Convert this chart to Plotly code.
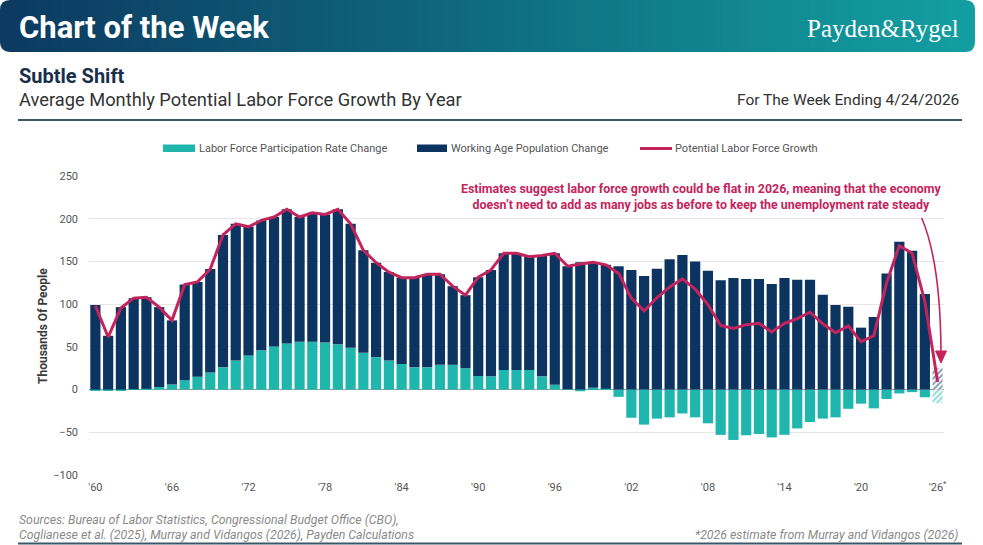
import plotly.graph_objects as go

years = list(range(1960, 2027))

# Labor force participation rate change (thousands/month)
lfpr_change = [-1, -1.5, -1, 0.5, 1, 3, 6, 11, 15, 20,
               26, 34, 40, 46, 50.5, 54, 56, 56, 55, 53,
               49, 43, 38, 34, 30, 26, 26, 29, 29, 25,
               16, 15.5, 23, 23, 23, 15.5, 5.5, 0.5, -2, 2,
               1, -8.5, -33, -41, -34, -32.5, -28, -32.5, -39.5, -53,
               -59, -53.5, -52, -56, -53, -45.5, -38, -34, -32.5, -22.5,
               -16.5, -22, -11, -4.5, -3, -9, -16]

# Working age population change (thousands/month)
wap_change = [99, 63, 96.5, 106.5, 107, 93.5, 75, 112, 111, 121,
              155, 160, 150.5, 152, 151.5, 157, 146, 151, 150, 158,
              145, 120, 110.5, 103.5, 101, 105, 109, 106, 92, 85.5,
              115.5, 124.5, 136.5, 136.5, 132.5, 141.5, 154, 144, 149, 147,
              145, 144.5, 140, 133, 141.5, 152.5, 157.5, 150, 139, 128,
              130.5, 129.5, 129.5, 123.5, 130.5, 128.5, 128.5, 111, 99, 97,
              72.5, 85, 136, 173, 162.5, 112, 25]

# Potential labor force growth (thousands/month)
potential_growth = [98, 61.5, 95.5, 107, 108, 96.5, 81, 123, 126, 141,
                    181, 194, 190.5, 198, 202, 211, 202, 207, 205, 211,
                    194, 163, 148.5, 137.5, 131, 131, 135, 135, 121, 110.5,
                    131.5, 140, 159.5, 159.5, 155.5, 157, 159.5, 144.5, 147, 149,
                    146, 136, 107, 92, 107.5, 120, 129.5, 117.5, 99.5, 75,
                    71.5, 76, 77.5, 67.5, 77.5, 83, 90.5, 77, 66.5, 74.5,
                    56, 63, 125, 168.5, 159.5, 103, 9]

tick_years = [1960, 1966, 1972, 1978, 1984, 1990, 1996, 2002, 2008, 2014, 2020, 2026]
tick_labels = ["'60", "'66", "'72", "'78", "'84", "'90", "'96", "'02", "'08", "'14", "'20", "'26<sup>*</sup>"]

TEAL = "#1fb6ae"
NAVY = "#0c3461"
CRIMSON = "#c4245c"
FONT = "Roboto"

# Plot area in pixels
L, R, T, B = 89, 944, 176, 475
W, H = R - L, B - T


def px(x):
    return (x - L) / W


def py(y):
    return (B - y) / H


def P(x, y):
    return "%f,%f" % (px(x), py(y))


n = len(years)
fig = go.Figure()
fig.add_trace(go.Bar(
    x=years, y=lfpr_change, name="Labor Force Participation Rate Change",
    marker=dict(color=TEAL, line=dict(width=0),
                pattern=dict(shape=[""] * (n - 1) + ["/"], fgcolor=TEAL, bgcolor="white",
                             size=4, solidity=0.5)),
    showlegend=False))
fig.add_trace(go.Bar(
    x=years, y=wap_change, name="Working Age Population Change",
    marker=dict(color=NAVY, line=dict(width=0),
                pattern=dict(shape=[""] * (n - 1) + ["/"], fgcolor=NAVY, bgcolor="white",
                             size=4, solidity=0.5)),
    showlegend=False))
fig.add_trace(go.Scatter(
    x=years, y=potential_growth, name="Potential Labor Force Growth", mode="lines",
    line=dict(color=CRIMSON, width=3), showlegend=False))

shapes = []
annotations = []

# Header banner with gradient
c0 = (12, 58, 97)
c1 = (18, 158, 160)
bx0, bx1, by0, by1 = 0, 975, 0, 52
nslices = 110
sx0, sx1 = 10, 965
for i in range(nslices):
    t = i / (nslices - 1)
    col = tuple(int(round(c0[k] + (c1[k] - c0[k]) * t)) for k in range(3))
    xa = sx0 + (sx1 - sx0) * i / nslices
    xb = sx0 + (sx1 - sx0) * (i + 1) / nslices + 0.8
    shapes.append(dict(type="rect", xref="paper", yref="paper", x0=px(xa), x1=px(xb),
                       y0=py(by1), y1=py(by0), fillcolor="rgb(%d,%d,%d)" % col,
                       line=dict(width=0), layer="below"))

r = 10
left_path = ("M " + P(sx0 + 1, by0) + " L " + P(bx0 + r, by0) + " Q " + P(bx0, by0) + " " + P(bx0, by0 + r)
             + " L " + P(bx0, by1 - r) + " Q " + P(bx0, by1) + " " + P(bx0 + r, by1)
             + " L " + P(sx0 + 1, by1) + " Z")
right_path = ("M " + P(sx1 - 1, by0) + " L " + P(bx1 - r, by0) + " Q " + P(bx1, by0) + " " + P(bx1, by0 + r)
              + " L " + P(bx1, by1 - r) + " Q " + P(bx1, by1) + " " + P(bx1 - r, by1)
              + " L " + P(sx1 - 1, by1) + " Z")
shapes.append(dict(type="path", xref="paper", yref="paper", path=left_path,
                   fillcolor="rgb(%d,%d,%d)" % c0, line=dict(width=0), layer="below"))
shapes.append(dict(type="path", xref="paper", yref="paper", path=right_path,
                   fillcolor="rgb(%d,%d,%d)" % c1, line=dict(width=0), layer="below"))

# Rules
shapes.append(dict(type="line", xref="paper", yref="paper", x0=px(18), x1=px(962), y0=py(120), y1=py(120),
                   line=dict(color="#3b5866", width=2)))
shapes.append(dict(type="line", xref="paper", yref="paper", x0=px(18), x1=px(962), y0=py(543.5), y1=py(543.5),
                   line=dict(color="#3b5866", width=2)))

# Legend (manual)
shapes.append(dict(type="rect", xref="paper", yref="paper", x0=px(163), x1=px(195), y0=py(152), y1=py(144.5),
                   fillcolor=TEAL, line=dict(width=0)))
shapes.append(dict(type="rect", xref="paper", yref="paper", x0=px(417), x1=px(447), y0=py(152), y1=py(144.5),
                   fillcolor=NAVY, line=dict(width=0)))
shapes.append(dict(type="line", xref="paper", yref="paper", x0=px(640), x1=px(672), y0=py(148.5), y1=py(148.5),
                   line=dict(color=CRIMSON, width=3)))
for xx, txt in [(197, "Labor Force Participation Rate Change"), (449, "Working Age Population Change"),
                (673, "Potential Labor Force Growth")]:
    annotations.append(dict(xref="paper", yref="paper", x=px(xx), y=py(148.5), xanchor="left", yanchor="middle",
                            text=txt, showarrow=False, font=dict(family=FONT, size=11, color="#555555")))

# Curved arrow to 2026 (pixel-designed path, converted to paper)
shapes.append(dict(type="path", xref="paper", yref="paper",
                   path="M " + P(921.7, 218) + " Q " + P(940.5, 262) + " " + P(941, 352),
                   line=dict(color=CRIMSON, width=1.6)))
shapes.append(dict(type="path", xref="paper", yref="paper",
                   path="M " + P(941, 363) + " L " + P(935.5, 351) + " L " + P(946.5, 351) + " Z",
                   fillcolor=CRIMSON, line=dict(color=CRIMSON, width=1)))

# Chart annotation
annotations.append(dict(xref="paper", yref="paper", x=px(701), y=py(196), xanchor="center", yanchor="middle",
                        text="Estimates suggest labor force growth could be flat in 2026, meaning that the economy<br>"
                             "doesn\u2019t need to add as many jobs as before to keep the unemployment rate steady",
                        showarrow=False, align="center",
                        font=dict(family=FONT, size=12.4, color=CRIMSON, weight="bold")))

# Header texts
annotations.append(dict(xref="paper", yref="paper", x=px(17), y=py(27), xanchor="left", yanchor="middle",
                        text="<b>Chart of the Week</b>", showarrow=False,
                        font=dict(family=FONT, size=31, color="white")))
annotations.append(dict(xref="paper", yref="paper", x=px(961), y=py(28), xanchor="right", yanchor="middle",
                        text="Payden&amp;Rygel", showarrow=False,
                        font=dict(family="Liberation Serif", size=25, color="white")))
annotations.append(dict(xref="paper", yref="paper", x=px(17), y=py(76), xanchor="left", yanchor="middle",
                        text="<b>Subtle Shift</b>", showarrow=False,
                        font=dict(family=FONT, size=20, color="#1b2f4a")))
annotations.append(dict(xref="paper", yref="paper", x=px(17), y=py(100), xanchor="left", yanchor="middle",
                        text="Average Monthly Potential Labor Force Growth By Year", showarrow=False,
                        font=dict(family=FONT, size=18.3, color="#333333")))
annotations.append(dict(xref="paper", yref="paper", x=px(961), y=py(100), xanchor="right", yanchor="middle",
                        text="For The Week Ending 4/24/2026", showarrow=False,
                        font=dict(family=FONT, size=15.5, color="#333333")))

# Y-axis title
annotations.append(dict(xref="paper", yref="paper", x=px(43), y=py(326), xanchor="center", yanchor="middle",
                        text="<b>Thousands Of People</b>", textangle=-90, showarrow=False,
                        font=dict(family=FONT, size=12, color="#3a3a3a")))

# Footer
annotations.append(dict(xref="paper", yref="paper", x=px(17), y=py(520), xanchor="left", yanchor="middle",
                        text="<i>Sources: Bureau of Labor Statistics, Congressional Budget Office (CBO),</i>",
                        showarrow=False, font=dict(family=FONT, size=12.3, color="#8a8a8a")))
annotations.append(dict(xref="paper", yref="paper", x=px(17), y=py(535), xanchor="left", yanchor="middle",
                        text="<i>Coglianese et al. (2025), Murray and Vidangos (2026), Payden Calculations</i>",
                        showarrow=False, font=dict(family=FONT, size=12.3, color="#8a8a8a")))
annotations.append(dict(xref="paper", yref="paper", x=px(961), y=py(535), xanchor="right", yanchor="middle",
                        text="<i>*2026 estimate from Murray and Vidangos (2026)</i>",
                        showarrow=False, font=dict(family=FONT, size=12.3, color="#8a8a8a")))

fig.update_layout(
    width=983, height=545,
    margin=dict(l=L, r=983 - R, t=T, b=545 - B, pad=0),
    paper_bgcolor="white", plot_bgcolor="white",
    barmode="relative", bargap=0.2,
    font=dict(family=FONT, size=11, color="#555555"),
    shapes=shapes, annotations=annotations,
    xaxis=dict(range=[1959.5, 2026.5], tickvals=tick_years, ticktext=tick_labels,
               showgrid=False, zeroline=False, showline=False, ticks="",
               tickfont=dict(family=FONT, size=11, color="#555555"), ticklabelstandoff=4),
    yaxis=dict(range=[-100, 250], tickvals=[-100, -50, 0, 50, 100, 150, 200, 250],
               showgrid=True, gridcolor="#e6e6e6", gridwidth=1,
               zeroline=True, zerolinecolor="#9a9a9a", zerolinewidth=1,
               showline=False, ticks="", ticklabelstandoff=10,
               tickfont=dict(family=FONT, size=11, color="#555555")),
)

fig.write_html("out.html")
